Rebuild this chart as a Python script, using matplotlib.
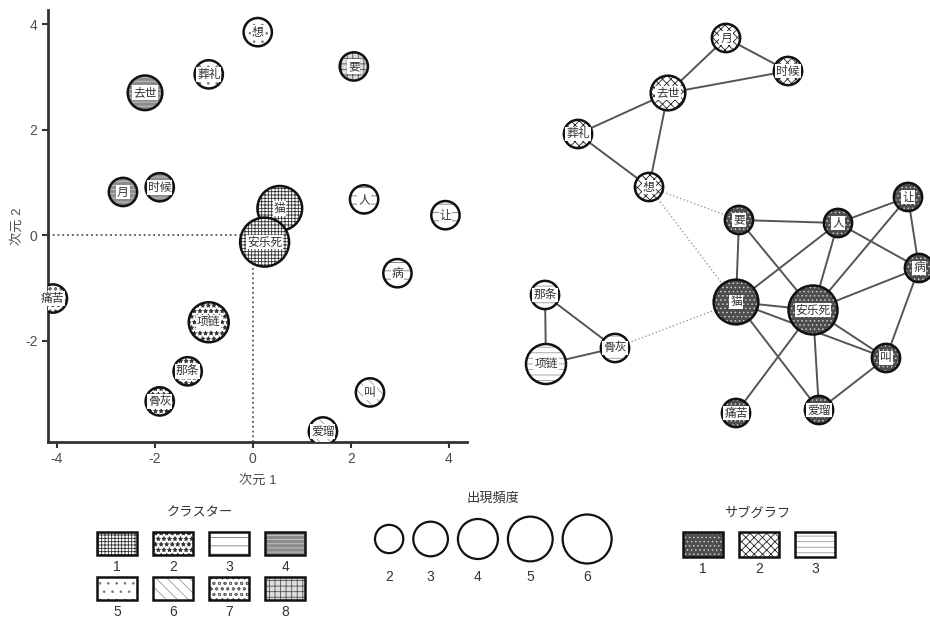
import numpy as np
import matplotlib.pyplot as plt
from matplotlib.patches import Circle, Rectangle

plt.rcParams['font.family'] = ['Liberation Sans', 'Noto Sans CJK JP']
plt.rcParams['hatch.linewidth'] = 0.6
plt.rcParams['axes.unicode_minus'] = False

# words, frequency, MDS coordinates and cluster
words = ['想', '葬礼', '要', '去世', '月', '时候', '人', '让', '病',
         '痛苦', '项链', '那条', '骨灰', '叫', '爱瑠', '猫', '安乐死']
freq = [2, 2, 2, 3, 2, 2, 2, 2, 2, 2, 4, 2, 2, 2, 2, 5, 6]
dim1 = [0.10, -0.90, 2.06, -2.20, -2.65, -1.90, 2.27, 3.93, 2.95,
        -4.08, -0.90, -1.33, -1.90, 2.39, 1.43, 0.55, 0.24]
dim2 = [3.85, 3.05, 3.20, 2.70, 0.82, 0.91, 0.68, 0.38, -0.72,
        -1.20, -1.65, -2.58, -3.15, -2.98, -3.72, 0.51, -0.13]
cluster = [5, 5, 8, 4, 4, 4, 3, 3, 3, 7, 2, 2, 2, 6, 6, 1, 1]

# co-occurrence network layout and subgraphs
net_x = [649, 578, 739, 668, 726, 788, 838, 908, 919,
         736, 546, 545, 615, 886, 819, 736, 813]
net_y = [187, 134, 220, 93, 38, 71, 223, 197, 268,
         413, 364, 295, 348, 358, 410, 302, 310]
subgraph = [2, 2, 1, 2, 2, 2, 1, 1, 1, 1, 3, 3, 3, 1, 1, 1, 1]
edges = [('月', '时候'), ('月', '去世'), ('去世', '时候'), ('去世', '葬礼'),
         ('去世', '想'), ('葬礼', '想'), ('要', '人'), ('要', '猫'),
         ('要', '安乐死'), ('人', '让'), ('人', '病'), ('人', '猫'),
         ('人', '安乐死'), ('让', '病'), ('让', '安乐死'), ('病', '安乐死'),
         ('病', '叫'), ('猫', '安乐死'), ('猫', '叫'), ('猫', '爱瑠'),
         ('安乐死', '痛苦'), ('安乐死', '爱瑠'), ('安乐死', '叫'),
         ('叫', '爱瑠'), ('那条', '项链'), ('那条', '骨灰'), ('骨灰', '项链')]
weak_edges = [('想', '要'), ('想', '猫'), ('猫', '骨灰')]

legend_freq = [2, 3, 4, 5, 6]

# fill colour, hatch, hatch colour
cluster_style = {
    1: ('white', '+++++', '#333333'),
    2: ('white', '***', '#333333'),
    3: ('white', '--', '#777777'),
    4: ('#8c8c8c', '----', '#c8c8c8'),
    5: ('white', '..', '#777777'),
    6: ('white', '\\\\\\', '#999999'),
    7: ('white', 'ooo', '#666666'),
    8: ('#dddddd', '+++', '#555555'),
}
sub_style = {
    1: ('#4d4d4d', '....', '#cccccc'),
    2: ('white', 'xxxx', '#222222'),
    3: ('white', '---', '#999999'),
}


def radius(f):
    return 10 * np.sqrt(f)


label_font = ['Noto Sans CJK SC', 'DejaVu Sans']
box = dict(facecolor='white', edgecolor='none', pad=0.6)

fig = plt.figure(figsize=(9.3, 6.21), dpi=100)

# MDS plot
ax = fig.add_axes([48 / 930, 1 - 442 / 621, 419 / 930, 432 / 621])
x0, x1, y0, y1 = -4.18, 4.37, -3.92, 4.27
ax.set_xlim(x0, x1)
ax.set_ylim(y0, y1)
ax.plot([x0, 0], [0, 0], ls=':', color='#555555', lw=1.3, zorder=1)
ax.plot([0, 0], [y0, 0], ls=':', color='#555555', lw=1.3, zorder=1)
for i, w in enumerate(words):
    fc, h, hc = cluster_style[cluster[i]]
    s = (2 * radius(freq[i]) * 0.72) ** 2
    ax.scatter(dim1[i], dim2[i], s=s, facecolor=fc, edgecolor=hc,
               linewidth=0, hatch=h, zorder=2 + i)
    ax.scatter(dim1[i], dim2[i], s=s, facecolor='none', edgecolor='#111111',
               linewidth=1.8, zorder=2 + i)
    ax.text(dim1[i], dim2[i], w, ha='center', va='center', fontsize=8.5,
            color='#333333', family=label_font, bbox=box, zorder=2.5 + i)
for side in ['top', 'right']:
    ax.spines[side].set_visible(False)
for side in ['left', 'bottom']:
    ax.spines[side].set_linewidth(2)
    ax.spines[side].set_color('#333333')
ax.set_xticks([-4, -2, 0, 2, 4])
ax.set_yticks([-2, 0, 2, 4])
ax.tick_params(length=4, width=1.5, color='#333333', labelsize=10,
               labelcolor='#4d4d4d')
ax.set_xlabel('次元 1', fontsize=9.5, color='#4d4d4d', labelpad=6)
ax.set_ylabel('次元 2', fontsize=9.5, color='#4d4d4d')
ax.yaxis.set_label_coords(-24 / 419, 0.5)

# overlay in pixel units for the network and the legends
ov = fig.add_axes([0, 0, 1, 1])
ov.set_xlim(0, 930)
ov.set_ylim(621, 0)
ov.axis('off')
ov.patch.set_visible(False)

idx = {w: i for i, w in enumerate(words)}
for a, b in edges:
    ov.plot([net_x[idx[a]], net_x[idx[b]]], [net_y[idx[a]], net_y[idx[b]]],
            color='#555555', lw=1.4, zorder=1)
for a, b in weak_edges:
    ov.plot([net_x[idx[a]], net_x[idx[b]]], [net_y[idx[a]], net_y[idx[b]]],
            color='#9a9a9a', lw=1.0, ls=':', zorder=1)
for i, w in enumerate(words):
    fc, h, hc = sub_style[subgraph[i]]
    r = radius(freq[i])
    ov.add_patch(Circle((net_x[i], net_y[i]), r, facecolor=fc, edgecolor=hc,
                        lw=0, hatch=h, zorder=2))
    ov.add_patch(Circle((net_x[i], net_y[i]), r, facecolor='none',
                        edgecolor='#111111', lw=1.8, zorder=3))
    ov.text(net_x[i], net_y[i], w, ha='center', va='center', fontsize=8.5,
            color='#333333', family=label_font, bbox=box, zorder=4)

# cluster legend
ov.text(200, 513, 'クラスター', ha='center', va='center', fontsize=9.5,
        color='#333333', family=['Noto Sans CJK JP'])
for k in range(1, 9):
    fc, h, hc = cluster_style[k]
    col, row = (k - 1) % 4, (k - 1) // 4
    bx, by = 97 + col * 56, 532 + row * 45
    ov.add_patch(Rectangle((bx, by), 40, 23, facecolor=fc, edgecolor=hc,
                           lw=0, hatch=h))
    ov.add_patch(Rectangle((bx, by), 40, 23, facecolor='none',
                           edgecolor='#111111', lw=1.8))
    ov.text(bx + 20, by + 35, str(k), ha='center', va='center', fontsize=10,
            color='#333333')

# frequency legend
ov.text(493, 498, '出現頻度', ha='center', va='center', fontsize=9.5,
        color='#333333', family=['Noto Sans CJK JP'])
cx = 375
for f in legend_freq:
    r = radius(f)
    cx += r
    ov.add_patch(Circle((cx, 539), r, facecolor='none', edgecolor='#111111',
                        lw=1.6))
    ov.text(cx, 577, str(f), ha='center', va='center', fontsize=10,
            color='#333333')
    cx += r + 10

# subgraph legend
ov.text(757, 513, 'サブグラフ', ha='center', va='center', fontsize=9.5,
        color='#333333', family=['Noto Sans CJK JP'])
for k in range(1, 4):
    fc, h, hc = sub_style[k]
    bx = 683 + (k - 1) * 56
    ov.add_patch(Rectangle((bx, 532), 40, 25, facecolor=fc, edgecolor=hc,
                           lw=0, hatch=h))
    ov.add_patch(Rectangle((bx, 532), 40, 25, facecolor='none',
                           edgecolor='#111111', lw=1.8))
    ov.text(bx + 20, 569, str(k), ha='center', va='center', fontsize=10,
            color='#333333')

fig.savefig('out.png', dpi=100)
